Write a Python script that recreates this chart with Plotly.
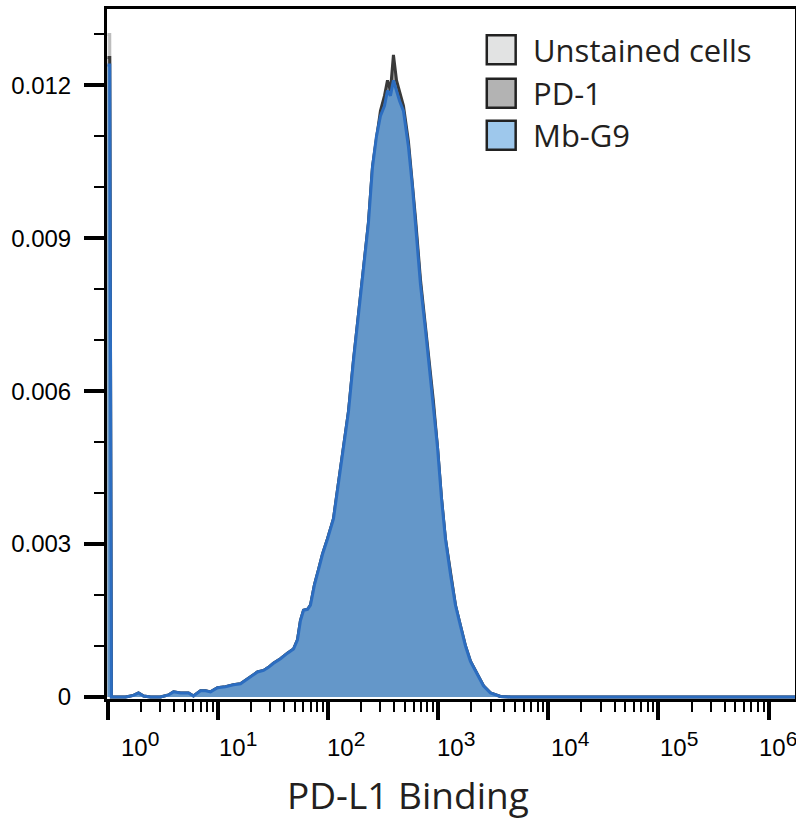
import plotly.graph_objects as go

# ---- data ----
LOG_X = [0.0, 0.02, 0.035, 0.073, 0.163, 0.236, 0.281, 0.327, 0.39, 0.48,
         0.553, 0.599, 0.662, 0.735, 0.78, 0.844, 0.889, 0.935, 0.998, 1.071,
         1.143, 1.207, 1.27, 1.316, 1.361, 1.416, 1.461, 1.506, 1.57, 1.633,
         1.688, 1.724, 1.751, 1.779, 1.815, 1.842, 1.878, 1.915, 1.951, 1.996,
         2.051, 2.096, 2.142, 2.187, 2.232, 2.278, 2.323, 2.368, 2.405, 2.441,
         2.477, 2.514, 2.541, 2.568, 2.595, 2.623, 2.65, 2.686, 2.731, 2.768,
         2.795, 2.84, 2.886, 2.922, 2.958, 2.995, 3.031, 3.067, 3.113, 3.158,
         3.203, 3.249, 3.294, 3.358, 3.412, 3.475, 3.566, 3.657, 4.5, 5.5, 6.3]

MBG9 = [0.0124, 0.0124, 0.0, 0.0, 0.0, 0.00003, 0.00008, 0.00002, 0.0, 0.0,
        0.00004, 0.0001, 0.00008, 0.00008, 0.00002, 0.00012, 0.00012, 0.0001, 0.00018, 0.0002,
        0.00024, 0.00026, 0.00035, 0.00042, 0.00049, 0.00052, 0.00058, 0.00066, 0.00075, 0.00086,
        0.00094, 0.00112, 0.0015, 0.0017, 0.00172, 0.0018, 0.0022, 0.0025, 0.0028, 0.0031,
        0.0035, 0.0042, 0.0049, 0.0056, 0.0066, 0.0075, 0.0084, 0.0093, 0.0104, 0.0110,
        0.0114, 0.0116, 0.0119, 0.0118, 0.0121, 0.0119, 0.0117, 0.0115, 0.0108, 0.0100,
        0.0093, 0.0081, 0.0072, 0.0064, 0.0057, 0.0049, 0.0039, 0.0031, 0.0024, 0.0018,
        0.0014, 0.0010, 0.0007, 0.00045, 0.00022, 0.00008, 0.00001, 0.0, 0.0, 0.0, 0.0]

PD1 = [0.01255, 0.01255, 0.0, 0.0, 0.0, 0.00003, 0.00008, 0.00002, 0.0, 0.0,
       0.00004, 0.0001, 0.00008, 0.00008, 0.00002, 0.00012, 0.00012, 0.0001, 0.00018, 0.0002,
       0.00024, 0.00026, 0.00035, 0.00042, 0.00049, 0.00052, 0.00058, 0.00066, 0.00075, 0.00086,
       0.00094, 0.00112, 0.0015, 0.0017, 0.00172, 0.0018, 0.0022, 0.0025, 0.0028, 0.0031,
       0.0035, 0.0042, 0.0049, 0.0056, 0.0066, 0.0075, 0.0084, 0.0093, 0.0104, 0.0110,
       0.0115, 0.0118, 0.0121, 0.0119, 0.0126, 0.0121, 0.0119, 0.0116, 0.0109, 0.0101,
       0.0094, 0.0082, 0.0073, 0.0065, 0.0058, 0.0049, 0.0039, 0.0031, 0.0024, 0.0018,
       0.0014, 0.0010, 0.0007, 0.00045, 0.00022, 0.00008, 0.00001, 0.0, 0.0, 0.0, 0.0]

UNSTAINED = [0.0130, 0.0130, 0.0, 0.0, 0.0, 0.00003, 0.00008, 0.00002, 0.0, 0.0,
             0.00004, 0.0001, 0.00008, 0.00008, 0.00002, 0.00012, 0.00012, 0.0001, 0.00018, 0.0002,
             0.00024, 0.00026, 0.00035, 0.00042, 0.00049, 0.00052, 0.00058, 0.00066, 0.00075, 0.00086,
             0.00094, 0.00112, 0.0015, 0.0017, 0.00172, 0.0018, 0.0022, 0.0025, 0.0028, 0.0031,
             0.0035, 0.0042, 0.0049, 0.0056, 0.0066, 0.0075, 0.0084, 0.0093, 0.0104, 0.0110,
             0.0114, 0.0117, 0.0120, 0.0118, 0.0123, 0.0120, 0.0118, 0.0115, 0.0108, 0.0100,
             0.0093, 0.0081, 0.0072, 0.0064, 0.0057, 0.0049, 0.0039, 0.0031, 0.0024, 0.0018,
             0.0014, 0.0010, 0.0007, 0.00045, 0.00022, 0.00008, 0.00001, 0.0, 0.0, 0.0, 0.0]

SERIES_NAMES = ["Unstained cells", "PD-1", "Mb-G9"]
X_DECADES = [0, 1, 2, 3, 4, 5, 6]
X_TICK_EXPONENTS = ["0", "1", "2", "3", "4", "5", "6"]
Y_TICKS = [0, 0.003, 0.006, 0.009, 0.012]
Y_TICK_LABELS = ["0", "0.003", "0.006", "0.009", "0.012"]
Y_MINOR = [0.001, 0.002, 0.004, 0.005, 0.007, 0.008, 0.010, 0.011, 0.013]
X_TITLE = "PD-L1 Binding"

# ---- styles ----
FILLS = ["#dcdcdc", "#9a9a9a", "#6497c9"]
LINES = ["#bdbdbd", "#3a3a3a", "#2c6dc0"]
LEGEND_FILLS = ["#e2e3e3", "#b3b3b3", "#9ec8ec"]
X_LABEL_SHIFT = [32, 20, 18, 18, 22, 21, 9]   # label offsets seen in the reference (px)

xs = [10 ** v for v in LOG_X]
fig = go.Figure()
for name, ys, fc, lc in zip(SERIES_NAMES, [UNSTAINED, PD1, MBG9], FILLS, LINES):
    fig.add_trace(go.Scatter(x=xs, y=ys, mode="lines", name=name, fill="tozeroy",
                             fillcolor=fc, line=dict(color=lc, width=3),
                             showlegend=False, hoverinfo="skip"))

minor_x = [m * 10 ** d for d in X_DECADES[:-1] for m in range(2, 10)]

fig.update_layout(
    width=796, height=823,
    margin=dict(l=107, r=1, t=9, b=124),
    paper_bgcolor="white", plot_bgcolor="white",
    showlegend=False,
)
fig.update_xaxes(
    type="log", range=[-0.005, 6.24], automargin=False,
    tickvals=[10 ** d for d in X_DECADES], showticklabels=False,
    ticks="outside", ticklen=18, tickwidth=4, tickcolor="black",
    showline=True, linewidth=3, linecolor="black", mirror=True,
    showgrid=False, zeroline=False,
    minor=dict(tickvals=minor_x, ticks="outside", ticklen=10, tickwidth=2,
               tickcolor="black", showgrid=False),
)
fig.update_yaxes(
    range=[-0.00004, 0.0135], automargin=False,
    tickvals=Y_TICKS, ticktext=Y_TICK_LABELS,
    ticks="outside", ticklen=20, tickwidth=4, tickcolor="black",
    showline=True, linewidth=3, linecolor="black", mirror=True,
    showgrid=False, zeroline=False,
    tickfont=dict(family="Liberation Sans", size=24, color="black"),
    ticklabelstandoff=8,
    minor=dict(tickvals=Y_MINOR, ticks="outside", ticklen=10, tickwidth=2,
               tickcolor="black", showgrid=False),
)

# decade tick labels (10^n), offset to the right as in the reference
for d, e, sh in zip(X_DECADES, X_TICK_EXPONENTS, X_LABEL_SHIFT):
    fig.add_annotation(xref="x", yref="paper", x=d, y=0, xshift=sh, yshift=-26,
                       xanchor="center", yanchor="top", showarrow=False,
                       text="10<sup><span style='font-size:21px'>" + e + "</span></sup>",
                       font=dict(family="Liberation Sans", size=24, color="black"))

# manual legend (square swatches like the reference)
box_top = [0.962, 0.899, 0.838]
for name, fc, top in zip(SERIES_NAMES, LEGEND_FILLS, box_top):
    fig.add_shape(type="rect", xref="paper", yref="paper",
                  x0=0.552, x1=0.594, y0=top - 0.042, y1=top,
                  fillcolor=fc, line=dict(color="#222222", width=2.5))
    fig.add_annotation(xref="paper", yref="paper", x=0.616, y=top - 0.021,
                       xanchor="left", yanchor="middle", showarrow=False,
                       text=name, font=dict(family="Open Sans", size=31, color="#231f20"))

fig.add_annotation(xref="paper", yref="paper", x=0.437, y=-0.139,
                   xanchor="center", yanchor="middle", showarrow=False,
                   text=X_TITLE, font=dict(family="Open Sans", size=37, color="#231f20"))

fig.write_html("out.html", config={"displayModeBar": False},
               post_script="document.body.style.margin='0';document.body.style.overflow='hidden';")
